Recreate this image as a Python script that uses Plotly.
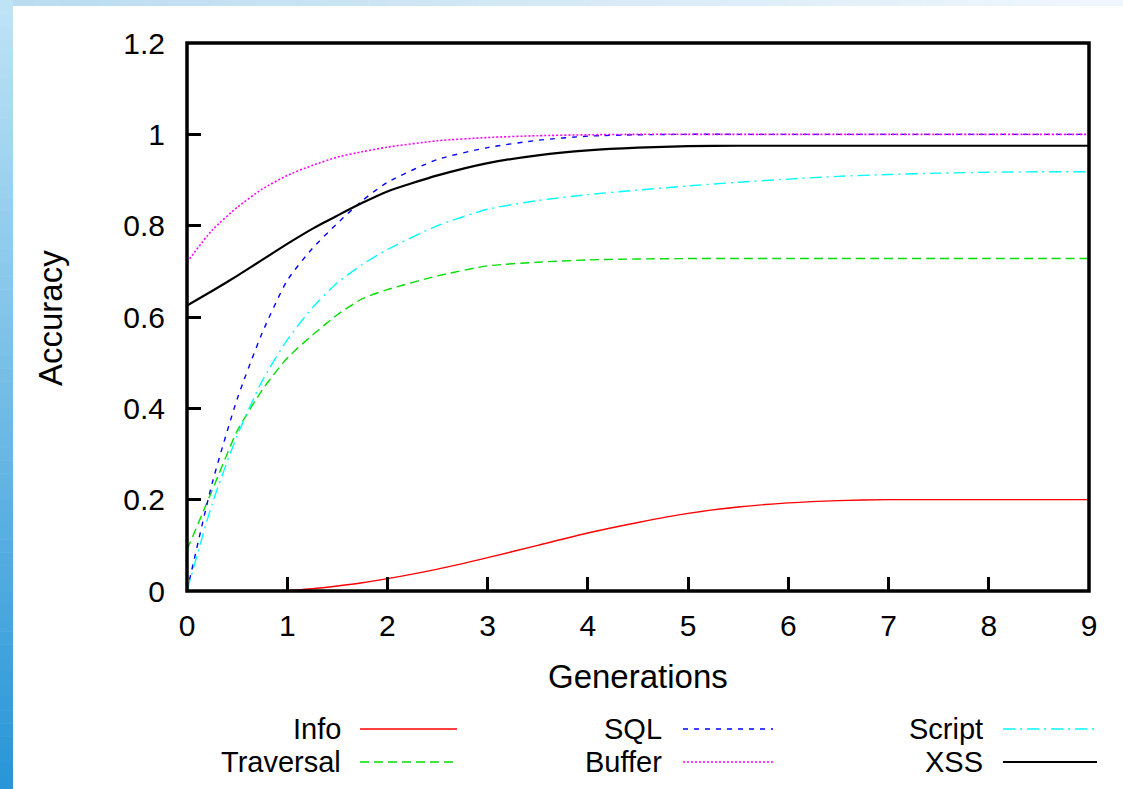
import plotly.graph_objects as go

# ---------------- data ----------------
gen_x = [0, 0.25, 0.5, 0.75, 1, 1.25, 1.5, 1.75, 2, 2.5, 3, 3.5, 4, 4.5, 5, 5.5, 6, 6.5, 7, 7.5, 8, 8.5, 9]

info = [0, 0, 0, 0, 0.001, 0.005, 0.011, 0.018, 0.027, 0.048, 0.073, 0.100, 0.127, 0.150, 0.170, 0.184, 0.193, 0.198, 0.200, 0.200, 0.200, 0.200, 0.200]
traversal = [0.09, 0.22, 0.35, 0.44, 0.51, 0.56, 0.605, 0.64, 0.66, 0.69, 0.712, 0.72, 0.725, 0.727, 0.728, 0.728, 0.728, 0.728, 0.728, 0.728, 0.728, 0.728, 0.728]
sql = [0, 0.235, 0.42, 0.565, 0.68, 0.75, 0.805, 0.855, 0.895, 0.945, 0.971, 0.987, 0.996, 0.999, 1.0, 1.0, 1.0, 1.0, 1.0, 1.0, 1.0, 1.0, 1.0]
buffer = [0.72, 0.79, 0.84, 0.88, 0.91, 0.932, 0.95, 0.962, 0.972, 0.986, 0.993, 0.997, 0.999, 1.0, 1.0, 1.0, 1.0, 1.0, 1.0, 1.0, 1.0, 1.0, 1.0]
script = [0, 0.19, 0.34, 0.46, 0.55, 0.62, 0.675, 0.715, 0.748, 0.800, 0.836, 0.855, 0.868, 0.878, 0.887, 0.895, 0.902, 0.908, 0.912, 0.915, 0.917, 0.918, 0.918]
xss = [0.625, 0.657, 0.690, 0.725, 0.760, 0.793, 0.822, 0.850, 0.875, 0.910, 0.937, 0.954, 0.965, 0.971, 0.974, 0.975, 0.975, 0.975, 0.975, 0.975, 0.975, 0.975, 0.975]

series_names = ["Info", "Traversal", "SQL", "Buffer", "Script", "XSS"]
series_values = [info, traversal, sql, buffer, script, xss]
series_colors = ["#ff0000", "#00e000", "#0000ff", "#ff00ff", "#00ffff", "#000000"]
series_dash = ["solid", "9px,5px", "5px,6px", "2px,2px", "12px,5px,2px,5px", "solid"]
series_width = [1.4, 1.4, 1.4, 1.6, 1.4, 2.2]

y_ticks = [0, 0.2, 0.4, 0.6, 0.8, 1.0, 1.2]
y_tick_labels = ["0", "0.2", "0.4", "0.6", "0.8", "1", "1.2"]
x_ticks = [0, 1, 2, 3, 4, 5, 6, 7, 8, 9]

# ---------------- geometry ----------------
W, H = 1123, 789
L, R, T, B = 187, 1089, 43, 591  # plot area in px
PW, PH = R - L, B - T


def px(xp):
    return (xp - L) / PW


def py(yp):
    return (B - yp) / PH


FONT = "Liberation Sans, Arial, Helvetica, sans-serif"
TXT = 33
LEG = 29

fig = go.Figure()
for name, vals, col, dash, w in zip(series_names, series_values, series_colors, series_dash, series_width):
    fig.add_trace(go.Scatter(
        x=gen_x, y=vals, mode="lines", name=name,
        line=dict(color=col, dash=dash, width=w, shape="spline", smoothing=0.6),
        showlegend=False, cliponaxis=True,
    ))

shapes = []
# background decorative strips (gradient approximated with bands)
n = 60
c0 = (190, 227, 245)
c1 = (40, 150, 216)
for i in range(n):
    t = i / (n - 1)
    col = tuple(int(round(c0[k] + (c1[k] - c0[k]) * t)) for k in range(3))
    y0 = H * i / n
    y1 = H * (i + 1) / n + 0.5
    shapes.append(dict(type="rect", xref="paper", yref="paper", layer="below",
                       x0=px(0), x1=px(13), y0=py(y1), y1=py(y0),
                       fillcolor="rgb(%d,%d,%d)" % col, line=dict(width=0)))
m = 50
d0 = (186, 220, 240)
d1 = (240, 247, 252)
for i in range(m):
    t = i / (m - 1)
    col = tuple(int(round(d0[k] + (d1[k] - d0[k]) * t)) for k in range(3))
    x0 = 13 + (W - 13) * i / m
    x1 = 13 + (W - 13) * (i + 1) / m + 0.5
    shapes.append(dict(type="rect", xref="paper", yref="paper", layer="below",
                       x0=px(x0), x1=px(x1), y0=py(6), y1=py(0),
                       fillcolor="rgb(%d,%d,%d)" % col, line=dict(width=0)))

# plot frame drawn centred on the plot-area edge, above the curves
shapes.append(dict(type="rect", xref="paper", yref="paper", layer="above",
                   x0=0, x1=1, y0=0, y1=1, line=dict(color="black", width=3.5),
                   fillcolor="rgba(0,0,0,0)"))

# legend
annotations = []
legend_cols = [(340, 360, 457), (661, 683, 773), (982, 1003, 1097)]
legend_rows = [729, 762]
for idx, name in enumerate(series_names):
    c = idx // 2
    r = idx % 2
    tx, lx0, lx1 = legend_cols[c]
    yy = legend_rows[r]
    annotations.append(dict(text=name, xref="paper", yref="paper", x=px(tx + 2), y=py(yy),
                            xanchor="right", yanchor="middle", showarrow=False, borderpad=0,
                            font=dict(family=FONT, size=LEG, color="black")))
    shapes.append(dict(type="line", xref="paper", yref="paper",
                       x0=px(lx0), x1=px(lx1), y0=py(yy), y1=py(yy),
                       line=dict(color=series_colors[idx], dash=series_dash[idx], width=series_width[idx])))

# axis titles
annotations.append(dict(text="Generations", xref="paper", yref="paper", x=px(638), y=py(676),
                        xanchor="center", yanchor="middle", showarrow=False,
                        font=dict(family=FONT, size=TXT, color="black")))
annotations.append(dict(text="Accuracy", xref="paper", yref="paper", x=px(50), y=py(318),
                        xanchor="center", yanchor="middle", showarrow=False, textangle=-90,
                        font=dict(family=FONT, size=TXT, color="black")))

fig.update_layout(
    width=W, height=H,
    margin=dict(l=L, r=W - R, t=T, b=H - B, pad=0),
    paper_bgcolor="white", plot_bgcolor="white",
    font=dict(family=FONT, size=30, color="black"),
    shapes=shapes, annotations=annotations,
    xaxis=dict(range=[0, 9], tickvals=x_ticks, ticktext=[str(v) for v in x_ticks],
               ticks="inside", ticklen=14, tickwidth=3, tickcolor="black",
               showline=False, showgrid=False, zeroline=False,
               ticklabelstandoff=14, layer="above traces"),
    yaxis=dict(range=[0, 1.2], tickvals=y_ticks, ticktext=y_tick_labels,
               ticks="inside", ticklen=14, tickwidth=3, tickcolor="black",
               showline=False, showgrid=False, zeroline=False,
               ticklabelstandoff=21, layer="above traces"),
)

fig.write_html("out.html")
